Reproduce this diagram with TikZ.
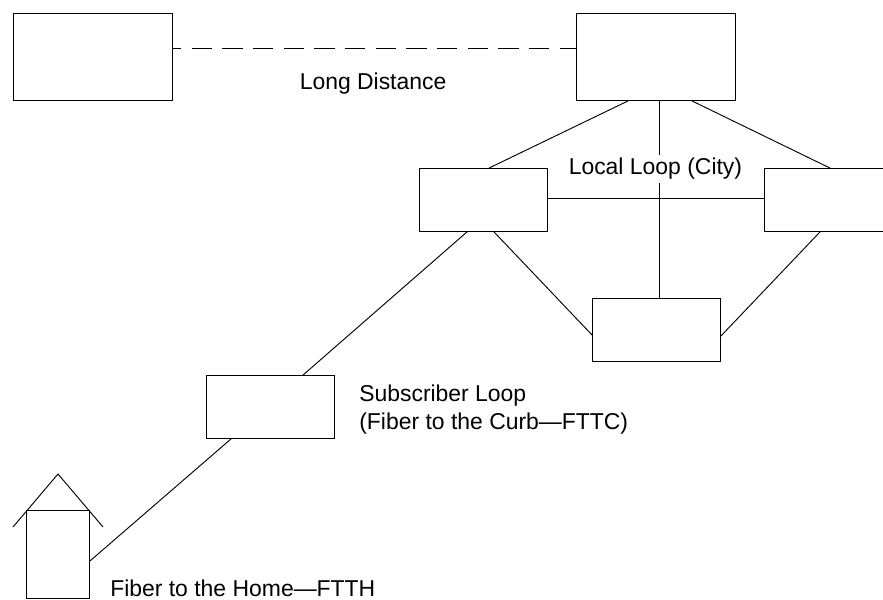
\documentclass[tikz,border=0pt]{standalone}
\usepackage{fontspec}
\setmainfont{Liberation Sans}
\usetikzlibrary{calc}
\tikzset{
  boxn/.style={draw,line width=0.65pt,minimum width=159*0.75pt,minimum height=87*0.75pt,inner sep=0pt},
  boxs/.style={draw,line width=0.65pt,minimum width=128*0.75pt,minimum height=63*0.75pt,inner sep=0pt},
  housebox/.style={draw,line width=0.65pt,minimum width=63*0.75pt,minimum height=88*0.75pt,inner sep=0pt},
  lnk/.style={line width=0.7pt},
  lbl/.style={font=\fontsize{17.2pt}{21pt}\selectfont,inner sep=0pt,anchor=west,align=left}
}
\begin{document}
\begin{tikzpicture}[x=0.75pt,y=-0.75pt]
\useasboundingbox (0,0) rectangle (883,600);
\node[boxn] (ld) at (93,57) {};
\node[boxn] (tc) at (656,57) {};
\node[boxs] (a) at (483.5,200) {};
\node[boxs] (c) at (828.5,200) {};
\node[boxs] (d) at (656.5,330) {};
\node[boxs] (e) at (270.5,407) {};
\node[housebox] (h) at (58,554.5) {};
\coordinate (rl) at (13,527);
\coordinate (rt) at (58,474);
\coordinate (rr) at (103,527);
\draw[lnk,dash pattern=on 15.3pt off 7.7pt,dash phase=9pt] ($(ld.east)+(0,-9)$) -- ($(tc.west)+(0,-9)$);
\draw[lnk] ($(tc.south)+(-28,0)$) -- ($(a.north)+(5.5,0)$);
\draw[lnk] ($(tc.south)+(36,0)$) -- ($(c.north)+(1.5,0)$);
\draw[lnk] ($(tc.south)+(3,0)$) -- ($(d.north)+(2.5,0)$);
\draw[lnk] ($(a.east)+(0,-2)$) -- ($(c.west)+(0,-2)$);
\draw[lnk] ($(a.south)+(10.5,0)$) -- ($(d.west)+(0,5)$);
\draw[lnk] ($(c.south)+(-8.5,0)$) -- ($(d.east)+(0,6)$);
\draw[lnk] ($(a.south)+(-16.5,0)$) -- ($(e.north)+(32.5,0)$);
\draw[lnk] ($(e.south)+(-39.5,0)$) -- ($(h.east)+(0,6.5)$);
\draw[lnk] (rl) -- (rt) -- (rr);
\node[lbl] (l1) at (299.5,83.4) {Long Distance};
\node[lbl,fill=white,minimum height=21pt] (l2) at (568.5,168.5) {Local Loop (City)};
\node[lbl] (l3) at (359,410) {Subscriber Loop\\(Fiber to the Curb—FTTC)};
\node[lbl] (l4) at (110,588.5) {Fiber to the Home—FTTH};
\end{tikzpicture}
\end{document}
